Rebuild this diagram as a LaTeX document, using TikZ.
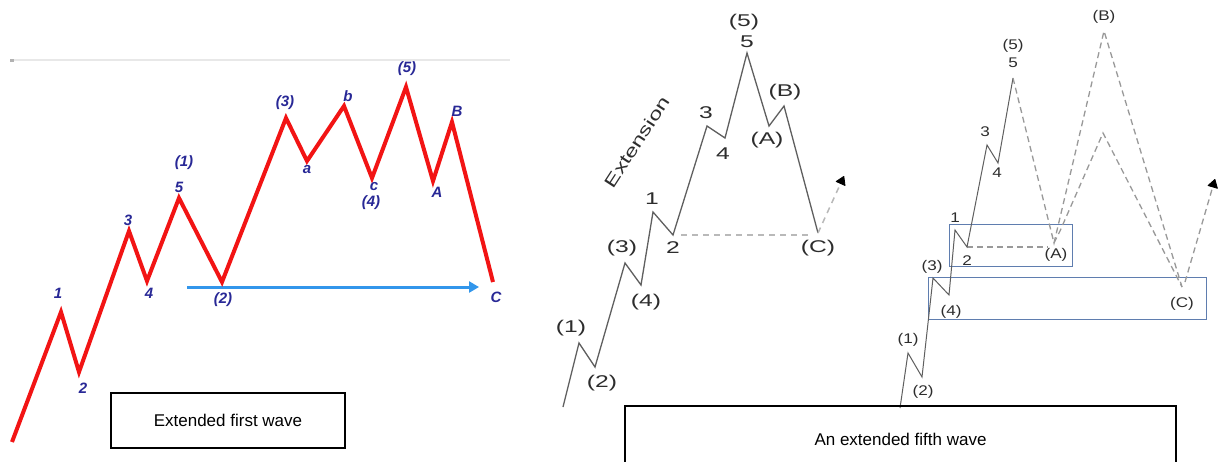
\documentclass[tikz,border=0pt]{standalone}
\usepackage{fontspec}
\setmainfont{Liberation Sans}
\usetikzlibrary{arrows.meta}
\definecolor{wavered}{RGB}{242,20,20}
\definecolor{labblue}{RGB}{40,40,150}
\definecolor{arrblue}{RGB}{50,150,235}
\definecolor{boxblue}{RGB}{95,125,175}
\definecolor{txtgray}{RGB}{45,45,45}
\definecolor{linegray}{RGB}{95,95,95}
\newcommand\mst[1]{\scalebox{1.45}[1]{#1}}
\newcommand\rst[1]{\scalebox{1.22}[1]{#1}}
\begin{document}
\begin{tikzpicture}[x=1pt,y=-1pt,
  redwave/.style={draw=wavered,line width=4pt,line join=miter,miter limit=10},
  lab/.style={text=labblue,font=\fontsize{15}{15}\selectfont\bfseries\itshape,inner sep=0pt},
  mlab/.style={text=txtgray,font=\fontsize{17}{17}\selectfont,inner sep=0pt},
  rlab/.style={text=txtgray,font=\fontsize{14}{14}\selectfont,inner sep=0pt},
  midline/.style={draw=linegray,line width=1.3pt,line join=miter},
  middash/.style={draw=gray!55,line width=1.5pt,dash pattern=on 6pt off 5pt},
  rline/.style={draw=linegray,line width=1pt,line join=miter},
  rdash/.style={draw=gray!80,line width=1.3pt,dash pattern=on 6pt off 4pt},
  tiparrow/.style={-{Triangle[length=9pt 0,width=11pt 0,color=black,fill=black,line width=0.8pt,round]}},
  capbox/.style={draw=black,line width=1.2pt,font=\fontsize{17}{17}\selectfont,inner sep=0pt},
  zonebox/.style={draw=boxblue,line width=0.9pt}]
\useasboundingbox (0,0) rectangle (1220,461);
\clip (0,0) rectangle (1220,461);
\fill[white] (0,0) rectangle (1220,461);

% ---------- left panel ----------
\coordinate (tl1) at (10,60);
\coordinate (tl2) at (510,60);
\draw[gray!18,line width=1.6pt] (tl1) -- (tl2);
\fill[gray!60] (10,58.5) rectangle (14,61.5);

\coordinate (bs) at (187,287);
\coordinate (be) at (479,287);
\draw[arrblue,line width=3pt,-{Triangle[length=10pt 0,width=11pt 0]}] (bs) -- (be);

\coordinate (L0) at (12,442);
\coordinate (L1) at (61,312);
\coordinate (L2) at (79,372);
\coordinate (L3) at (129,231);
\coordinate (L4) at (147,281);
\coordinate (L5) at (179,198);
\coordinate (LP2) at (222,282);
\coordinate (LP3) at (286,118);
\coordinate (La) at (307,161);
\coordinate (Lb) at (344,106);
\coordinate (Lc) at (372,178);
\coordinate (LP5) at (406,87);
\coordinate (LA) at (433,181);
\coordinate (LB) at (452,122);
\coordinate (LC) at (493,282);
\draw[redwave] (L0) -- (L1) -- (L2) -- (L3) -- (L4) -- (L5) -- (LP2) -- (LP3) -- (La) -- (Lb) -- (Lc) -- (LP5) -- (LA) -- (LB) -- (LC);

\node[lab] (t1) at (58,293) {1};
\node[lab] (t2) at (83,388) {2};
\node[lab] (t3) at (128,220) {3};
\node[lab] (t4) at (149,293) {4};
\node[lab] (t5) at (179,187) {5};
\node[lab] (tp1) at (184,163) {(1)};
\node[lab] (tp2) at (223,300) {(2)};
\node[lab] (tp3) at (285,103) {(3)};
\node[lab] (ta) at (307,170) {a};
\node[lab] (tb) at (348,96) {b};
\node[lab] (tc) at (374,187) {c};
\node[lab] (tp4) at (371,203) {(4)};
\node[lab] (tp5) at (407,69) {(5)};
\node[lab] (tA) at (437,192) {A};
\node[lab] (tB) at (457,111) {B};
\node[lab] (tC) at (496,297) {C};

\node[capbox,minimum width=234pt,minimum height=55pt] (box1) at (228,420.5) {Extended first wave};

% ---------- middle panel ----------
\coordinate (M0) at (563,407);
\coordinate (M1) at (579,343);
\coordinate (M2) at (595,367);
\coordinate (M3) at (625,263);
\coordinate (M4) at (641,285);
\coordinate (Ma) at (653,212);
\coordinate (Mb) at (673,235);
\coordinate (Mc) at (707,126);
\coordinate (Md) at (725,138);
\coordinate (Me) at (747,53);
\coordinate (MA) at (769,126);
\coordinate (MB) at (784,106);
\coordinate (MC) at (818,233);
\coordinate (Mh1) at (681,235);
\coordinate (Mh2) at (812,235);
\coordinate (Marr) at (844,176);
\draw[middash] (Mh1) -- (Mh2);
\draw[midline] (M0) -- (M1) -- (M2) -- (M3) -- (M4) -- (Ma) -- (Mb) -- (Mc) -- (Md) -- (Me) -- (MA) -- (MB) -- (MC);
\draw[middash,tiparrow] (MC) -- (Marr);

\node[mlab] (m5p) at (744,22) {\mst{(5)}};
\node[mlab] (m5) at (747,42) {\mst{5}};
\node[mlab] (m3) at (706,113) {\mst{3}};
\node[mlab] (m4) at (723,154) {\mst{4}};
\node[mlab] (mB) at (785,92) {\mst{(B)}};
\node[mlab] (mA) at (767,140) {\mst{(A)}};
\node[mlab] (m1) at (652,199) {\mst{1}};
\node[mlab] (m2) at (673,248) {\mst{2}};
\node[mlab] (m3p) at (622,248) {\mst{(3)}};
\node[mlab] (m4p) at (646,302) {\mst{(4)}};
\node[mlab] (m1p) at (571,328) {\mst{(1)}};
\node[mlab] (m2p) at (602,383) {\mst{(2)}};
\node[mlab] (mC) at (818,248) {\mst{(C)}};
\node[mlab,rotate=57] (ext) at (637,142) {\scalebox{1.4}[1]{Extension}};

% ---------- right panel ----------
\draw[zonebox] (949,224) rectangle (1072,266);
\draw[zonebox] (928,277) rectangle (1206,319);
\coordinate (R0) at (900,408);
\coordinate (R1) at (908,353);
\coordinate (R2) at (922,377);
\coordinate (R3) at (933,278);
\coordinate (R4) at (949,295);
\coordinate (Ra) at (955,230);
\coordinate (Rb) at (967,247);
\coordinate (Rc) at (987,145);
\coordinate (Rd) at (998,163);
\coordinate (Re) at (1013,78);
\coordinate (RA) at (1054,243);
\coordinate (RA2) at (1060,231);
\coordinate (RB) at (1104,31);
\coordinate (RBi) at (1103,133);
\coordinate (RC) at (1182,287);
\coordinate (RC2) at (1185,282);
\coordinate (Rh2) at (1048,247);
\coordinate (Rarr) at (1215,179);
\draw[rdash] (Rb) -- (Rh2);
\draw[rline] (R0) -- (R1) -- (R2) -- (R3) -- (R4) -- (Ra) -- (Rb) -- (Rc) -- (Rd) -- (Re);
\draw[rdash] (Re) -- (RA) -- (RB) -- (RC);
\draw[rdash] (RA) -- (RA2) -- (RBi) -- (RC);
\draw[rdash,tiparrow] (RC2) -- (Rarr);

\node[rlab] (rBp) at (1104,17) {\rst{(B)}};
\node[rlab] (r5p) at (1013,46) {\rst{(5)}};
\node[rlab] (r5) at (1013,63) {\rst{5}};
\node[rlab] (r3) at (985,132) {\rst{3}};
\node[rlab] (r4) at (997,173) {\rst{4}};
\node[rlab] (r1) at (955,218) {\rst{1}};
\node[rlab] (r2) at (967,261) {\rst{2}};
\node[rlab] (rA) at (1056,255) {\rst{(A)}};
\node[rlab] (r3p) at (932,267) {\rst{(3)}};
\node[rlab] (r4p) at (951,312) {\rst{(4)}};
\node[rlab] (r1p) at (908,340) {\rst{(1)}};
\node[rlab] (r2p) at (923,392) {\rst{(2)}};
\node[rlab] (rC) at (1182,304) {\rst{(C)}};

\node[capbox,minimum width=551pt,minimum height=66pt] (box2) at (900.5,439) {An extended fifth wave};
\end{tikzpicture}
\end{document}
